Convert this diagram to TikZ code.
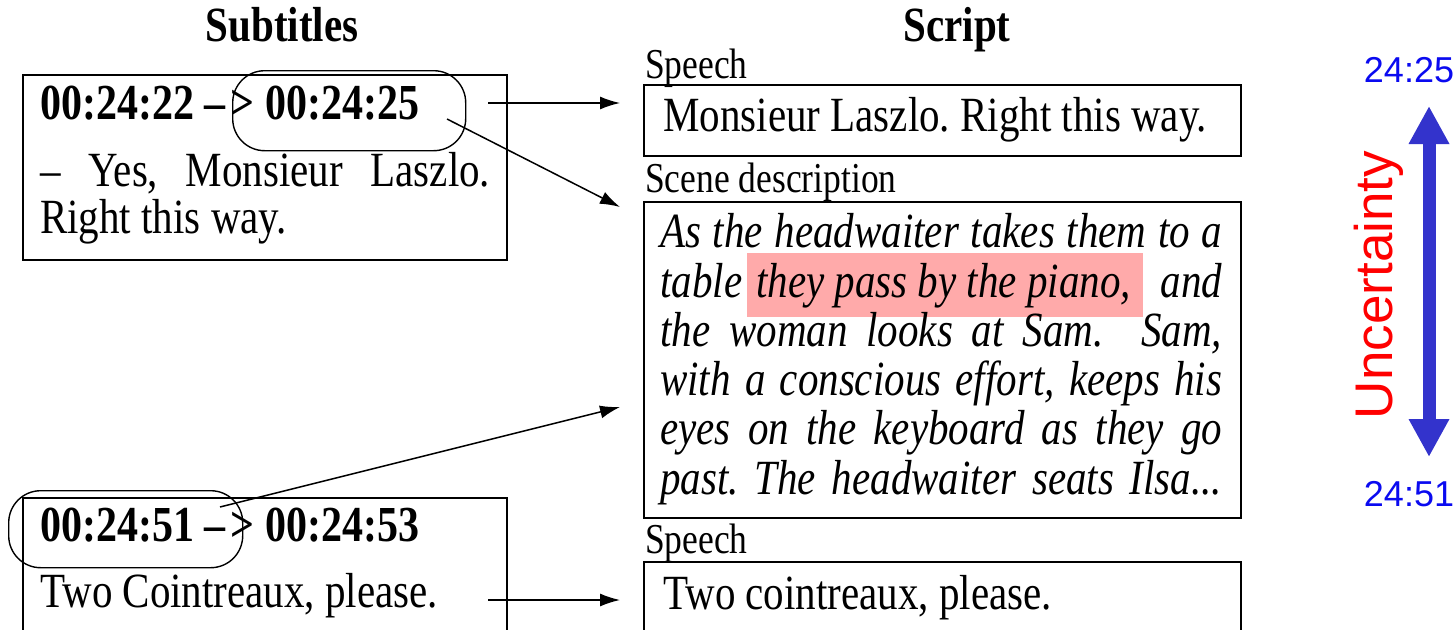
\documentclass[tikz,border=0pt]{standalone}
\usepackage{fontspec}
\setmainfont{Liberation Serif}
\newfontfamily\arialfont{Liberation Sans}
\usepackage{graphicx}
\usetikzlibrary{arrows.meta}
\definecolor{hl}{RGB}{255,170,170}
\definecolor{arrowblue}{RGB}{51,51,204}
\definecolor{tblue}{RGB}{10,10,240}
\newcommand\vst[1]{\scalebox{1}[1.2]{#1}}
\frenchspacing
\begin{document}
\begin{tikzpicture}[x=1pt,y=-1pt,
  box/.style={draw, line width=1.5pt, minimum width=597pt, anchor=north west, inner sep=0},
  subbox/.style={draw, line width=1.5pt, minimum width=484pt, anchor=north west, inner sep=0},
  oval/.style={draw, line width=1.4pt, rounded corners=32pt, anchor=north west, inner sep=0},
  txt/.style={anchor=base west, inner sep=0, font=\fontsize{41}{49}\selectfont},
  btxt/.style={anchor=base west, inner sep=0, font=\fontsize{42}{49}\selectfont\bfseries},
  itxt/.style={anchor=base west, inner sep=0, font=\fontsize{41}{49}\selectfont\itshape},
  lbl/.style={anchor=base west, inner sep=0, font=\fontsize{35.5}{42}\selectfont},
  head/.style={anchor=base, inner sep=0, font=\fontsize{41}{49}\selectfont\bfseries},
  conn/.style={line width=1.5pt, -{Latex[length=20pt,width=13pt]}},
  sans/.style={inner sep=0, font=\arialfont\fontsize{36}{40}\selectfont, text=tblue},
]
\useasboundingbox (0,0) rectangle (1456,629);
\clip (0,0) rectangle (1456,629);

% headings
\node[head] (hsub) at (282,41) {\vst{Subtitles}};
\node[head] (hscr) at (957,41) {\vst{Script}};

% subtitle box 1
\node[subbox, minimum height=185pt] (sub1) at (22,74) {};
\node[btxt] (t1a) at (40,119) {\vst{00:24:22 –\hspace{5pt}> 00:24:25}};
\node[txt] (t1b) at (40,186) {\vst{\makebox[450pt][s]{– Yes, Monsieur Laszlo.}}};
\node[txt] (t1c) at (40,233) {\vst{Right this way.}};
\node[oval, minimum width=233pt, minimum height=80pt] (ov1) at (232,70) {};

% subtitle box 2
\node[subbox, minimum height=160pt] (sub2) at (22,497) {};
\node[btxt] (t2a) at (40,541) {\vst{00:24:51 –\hspace{5pt}> 00:24:53}};
\node[txt] (t2b) at (40,607) {\vst{Two Cointreaux, please.}};
\node[oval, minimum width=234pt, minimum height=77pt] (ov2) at (8,490) {};

% script: speech 1
\node[lbl] (l1) at (645,78) {\vst{Speech}};
\node[box, minimum height=71pt] (sp1) at (643,84) {};
\node[txt] (s1t) at (663,131) {\vst{Monsieur Laszlo. Right this way.}};

% script: scene description
\node[lbl] (l2) at (645,192) {\vst{Scene description}};
\node[box, minimum height=316pt] (sc) at (643,201) {};
\node[itxt] (d1) at (660,247) {\vst{\makebox[562pt][s]{As the headwaiter takes them to a}}};
\node[itxt] (d2) at (660,297) {\vst{\makebox[562pt][s]{table\hspace{5pt}{\setlength\fboxsep{0pt}\colorbox{hl}{\rule[-16.5pt]{0pt}{53pt}\hspace{9pt}they pass by the piano,\hspace{12pt}}} and}}};
\node[itxt] (d3) at (660,346) {\vst{\makebox[562pt][s]{the woman looks at Sam. \ Sam,}}};
\node[itxt] (d4) at (660,395) {\vst{\makebox[562pt][s]{with a conscious effort, keeps his}}};
\node[itxt] (d5) at (660,444) {\vst{\makebox[562pt][s]{eyes on the keyboard as they go}}};
\node[itxt] (d6) at (660,494) {\vst{\makebox[562pt][s]{past. The headwaiter seats Ilsa...}}};

% script: speech 2
\node[lbl] (l3) at (645,553) {\vst{Speech}};
\node[box, minimum height=100pt] (sp2) at (643,561) {};
\node[txt] (s2t) at (663,609) {\vst{Two cointreaux, please.}};

% connectors
\coordinate (a1s) at (488,103); \coordinate (a1e) at (620,103);
\coordinate (a2s) at (447,119); \coordinate (a2e) at (620,207);
\coordinate (a3s) at (220,507); \coordinate (a3e) at (620,407);
\coordinate (a4s) at (488,600); \coordinate (a4e) at (620,600);
\draw[conn] (a1s) -- (a1e);
\draw[conn] (a2s) -- (a2e);
\draw[conn] (a3s) -- (a3e);
\draw[conn] (a4s) -- (a4e);

% uncertainty
\node[sans] (u1) at (1409,70) {24:25};
\node[sans] (u2) at (1409,494) {24:51};
\coordinate (ut) at (1429,106);
\coordinate (ub) at (1429,457);
\draw[line width=13pt, arrowblue, {Triangle[length=38pt,width=38pt]}-{Triangle[length=38pt,width=38pt]}] (ut) -- (ub);
\node[inner sep=0, rotate=90, text=red, font=\arialfont\fontsize{53}{60}\selectfont] (unc) at (1379,285) {Uncertainty};
\end{tikzpicture}
\end{document}
